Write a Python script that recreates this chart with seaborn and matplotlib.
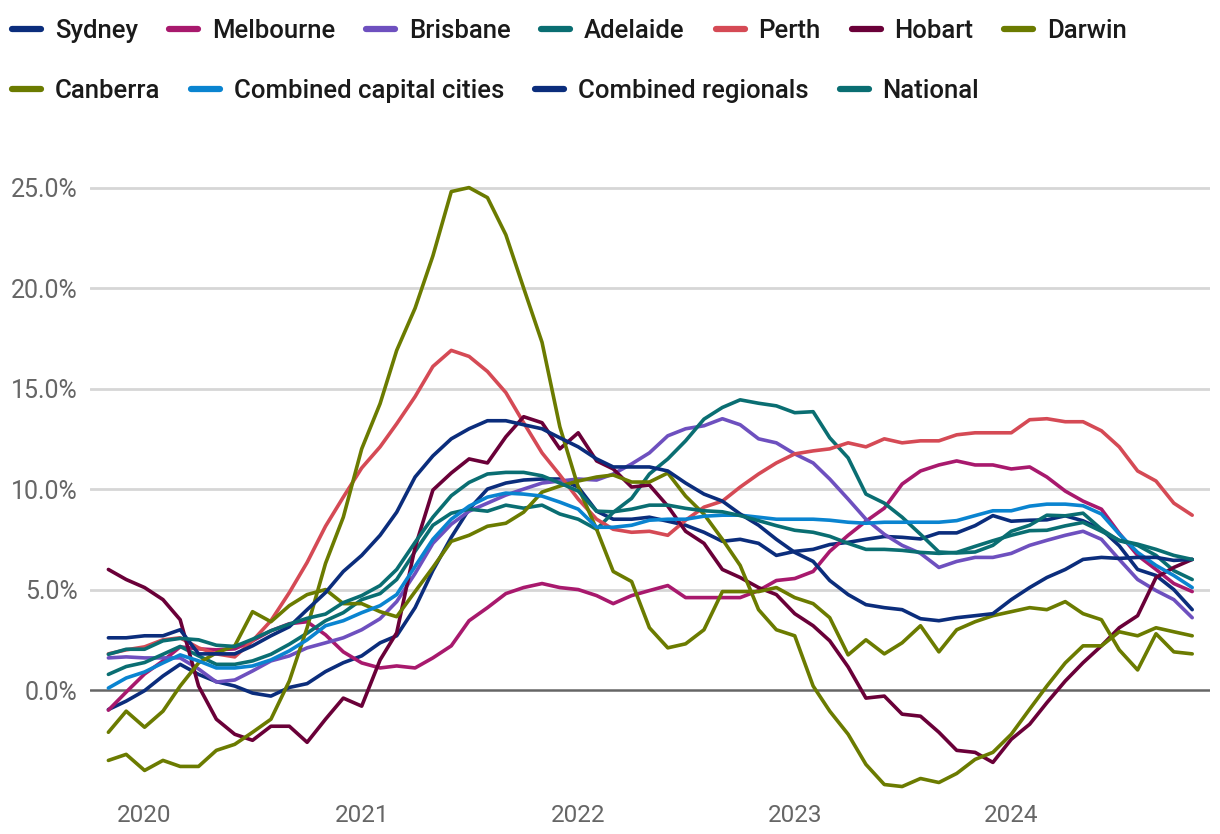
import pandas as pd
import matplotlib.pyplot as plt
import seaborn as sns
from matplotlib.lines import Line2D
from matplotlib.ticker import FuncFormatter

# monthly annual change, Nov 2019 - Nov 2024
months = pd.date_range('2019-11-01', '2024-11-01', freq='MS')

sydney = [-0.97, -0.55, -0.03, 0.7, 1.28, 0.78, 0.42, 0.2, -0.15, -0.3,
          0.13, 0.32, 0.92, 1.36, 1.7, 2.35, 2.7, 4.1, 5.95, 7.6,
          9.0, 10.0, 10.3, 10.45, 10.5, 10.5, 10.1, 8.9, 8.5, 8.5,
          8.6, 8.4, 8.2, 7.85, 7.4, 7.5, 7.3, 6.7, 6.9, 7.0,
          7.24, 7.35, 7.5, 7.64, 7.6, 7.52, 7.82, 7.82, 8.18, 8.68,
          8.4, 8.45, 8.47, 8.67, 8.42, 8.0, 7.18, 6.0, 5.7, 5.0,
          4.0]
melbourne = [-1.0, -0.1, 0.8, 1.45, 2.15, 2.05, 2.0, 2.05, 2.45, 2.95,
             3.3, 3.4, 2.75, 1.9, 1.35, 1.1, 1.2, 1.1, 1.6, 2.2,
             3.45, 4.1, 4.8, 5.1, 5.3, 5.1, 5.0, 4.7, 4.3, 4.7,
             4.95, 5.2, 4.6, 4.6, 4.6, 4.6, 4.95, 5.45, 5.55, 5.9,
             6.9, 7.7, 8.4, 9.05, 10.25, 10.9, 11.2, 11.4, 11.2, 11.2,
             11.0, 11.1, 10.6, 9.9, 9.4, 9.0, 7.8, 6.7, 6.0, 5.3,
             4.9]
brisbane = [1.6, 1.65, 1.6, 1.6, 1.6, 1.05, 0.4, 0.5, 0.95, 1.45,
            1.7, 2.1, 2.35, 2.6, 3.0, 3.55, 4.4, 5.8, 7.3, 8.25,
            8.9, 9.3, 9.7, 10.0, 10.3, 10.4, 10.5, 10.45, 10.75, 11.25,
            11.8, 12.65, 13.0, 13.15, 13.5, 13.2, 12.5, 12.3, 11.75, 11.3,
            10.5, 9.5, 8.5, 7.75, 7.2, 6.8, 6.1, 6.4, 6.6, 6.6,
            6.8, 7.2, 7.45, 7.7, 7.9, 7.5, 6.5, 5.5, 4.95, 4.5,
            3.6]
adelaide = [0.78, 1.17, 1.37, 1.78, 2.17, 1.7, 1.28, 1.28, 1.45, 1.78,
            2.28, 2.83, 3.45, 3.85, 4.5, 4.8, 5.5, 6.9, 8.2, 8.8,
            9.0, 8.9, 9.2, 9.05, 9.2, 8.76, 8.5, 8.0, 8.84, 9.54,
            10.75, 11.5, 12.4, 13.48, 14.06, 14.44, 14.27, 14.14, 13.8, 13.85,
            12.55, 11.55, 9.75, 9.3, 8.6, 7.75, 6.87, 6.82, 6.87, 7.2,
            7.9, 8.2, 8.7, 8.67, 8.8, 8.0, 7.43, 7.2, 6.7, 5.94,
            5.5]
perth = [1.8, 2.0, 2.15, 2.5, 2.6, 2.1, 1.8, 1.65, 2.45, 3.45,
         4.85, 6.35, 8.15, 9.6, 11.05, 12.1, 13.25, 14.6, 16.1, 16.9,
         16.6, 15.85, 14.8, 13.3, 11.8, 10.7, 9.5, 8.5, 8.0, 7.85,
         7.9, 7.7, 8.45, 9.1, 9.4, 10.1, 10.75, 11.3, 11.75, 11.9,
         12.0, 12.3, 12.1, 12.5, 12.3, 12.4, 12.4, 12.7, 12.8, 12.8,
         12.8, 13.45, 13.5, 13.35, 13.35, 12.9, 12.1, 10.9, 10.4, 9.3,
         8.7]
hobart = [6.0, 5.5, 5.1, 4.5, 3.5, 0.2, -1.45, -2.2, -2.5, -1.8,
          -1.8, -2.6, -1.45, -0.4, -0.8, 1.5, 2.85, 7.1, 9.95, 10.8,
          11.5, 11.3, 12.6, 13.6, 13.3, 12.0, 12.8, 11.4, 11.0, 10.1,
          10.2, 9.15, 7.9, 7.3, 6.0, 5.6, 5.1, 4.75, 3.8, 3.2,
          2.45, 1.15, -0.4, -0.3, -1.2, -1.3, -2.1, -3.0, -3.1, -3.6,
          -2.45, -1.7, -0.63, 0.45, 1.36, 2.2, 3.1, 3.7, 5.6, 6.1,
          6.5]
darwin = [-3.5, -3.2, -4.0, -3.5, -3.8, -3.8, -3.0, -2.7, -2.1, -1.45,
          0.45, 3.1, 6.3, 8.6, 12.0, 14.25, 16.9, 19.0, 21.6, 24.8,
          25.0, 24.5, 22.65, 20.0, 17.3, 13.1, 10.1, 8.0, 5.9, 5.4,
          3.1, 2.1, 2.3, 3.0, 4.9, 4.9, 4.9, 5.1, 4.6, 4.3,
          3.6, 1.75, 2.5, 1.8, 2.35, 3.2, 1.9, 3.0, 3.4, 3.7,
          3.9, 4.1, 4.0, 4.4, 3.8, 3.5, 2.0, 1.0, 2.8, 1.9,
          1.8]
canberra = [-2.1, -1.05, -1.85, -1.05, 0.2, 1.35, 1.85, 2.2, 3.9, 3.4,
            4.2, 4.75, 5.0, 4.3, 4.3, 3.9, 3.65, 4.9, 6.1, 7.4,
            7.7, 8.15, 8.3, 8.85, 9.85, 10.15, 10.4, 10.6, 10.7, 10.35,
            10.35, 10.8, 9.65, 8.75, 7.5, 6.2, 4.0, 3.0, 2.7, 0.2,
            -1.05, -2.2, -3.7, -4.7, -4.8, -4.4, -4.6, -4.15, -3.45, -3.1,
            -2.2, -0.95, 0.2, 1.35, 2.2, 2.2, 2.9, 2.7, 3.1, 2.9,
            2.7]
capitals = [0.1, 0.6, 0.9, 1.35, 1.75, 1.45, 1.1, 1.1, 1.2, 1.5,
            1.95, 2.5, 3.2, 3.45, 3.85, 4.2, 4.75, 6.15, 7.5, 8.5,
            9.15, 9.6, 9.8, 9.75, 9.65, 9.35, 9.0, 8.1, 8.1, 8.2,
            8.45, 8.5, 8.5, 8.65, 8.7, 8.7, 8.6, 8.5, 8.5, 8.5,
            8.45, 8.35, 8.3, 8.35, 8.35, 8.35, 8.35, 8.43, 8.68, 8.92,
            8.92, 9.15, 9.25, 9.25, 9.17, 8.76, 7.76, 6.85, 6.2, 5.7,
            5.1]
regionals = [2.6, 2.6, 2.7, 2.7, 3.0, 1.8, 1.8, 1.8, 2.2, 2.7,
             3.15, 4.0, 4.85, 5.9, 6.7, 7.7, 8.85, 10.6, 11.65, 12.5,
             13.0, 13.4, 13.4, 13.2, 13.0, 12.55, 12.1, 11.5, 11.1, 11.1,
             11.1, 10.9, 10.3, 9.75, 9.4, 8.76, 8.2, 7.5, 6.85, 6.4,
             5.45, 4.75, 4.25, 4.1, 4.0, 3.55, 3.45, 3.6, 3.7, 3.8,
             4.5, 5.1, 5.6, 6.0, 6.5, 6.6, 6.55, 6.6, 6.6, 6.45,
             6.5]
national = [1.78, 2.03, 2.03, 2.45, 2.57, 2.5, 2.23, 2.17, 2.53, 2.95,
            3.28, 3.57, 3.78, 4.35, 4.7, 5.2, 6.0, 7.35, 8.6, 9.67,
            10.33, 10.75, 10.83, 10.83, 10.66, 10.3, 9.9, 8.9, 8.87, 9.0,
            9.2, 9.2, 9.04, 8.92, 8.87, 8.68, 8.43, 8.18, 7.95, 7.85,
            7.65, 7.3, 7.0, 7.0, 6.95, 6.85, 6.8, 6.85, 7.15, 7.43,
            7.7, 7.93, 7.95, 8.17, 8.34, 7.9, 7.45, 7.26, 7.0, 6.7,
            6.5]

cities = ['Sydney', 'Melbourne', 'Brisbane', 'Adelaide', 'Perth', 'Hobart', 'Darwin',
          'Canberra', 'Combined capital cities', 'Combined regionals', 'National']
values = [sydney, melbourne, brisbane, adelaide, perth, hobart, darwin,
          canberra, capitals, regionals, national]

colours = {
    'Sydney': '#0b2d7c',
    'Melbourne': '#a8196d',
    'Brisbane': '#6e50bf',
    'Adelaide': '#0a6e72',
    'Perth': '#d54a55',
    'Hobart': '#6a0038',
    'Darwin': '#6b7b00',
    'Canberra': '#6b7b00',
    'Combined capital cities': '#0a84d0',
    'Combined regionals': '#0b2d7c',
    'National': '#0a6e72',
}

df = pd.DataFrame({c: v for c, v in zip(cities, values)}, index=months)
df = df.reset_index(names='month').melt(id_vars='month', var_name='city', value_name='change')

sns.set_style('white')
plt.rcParams['font.family'] = ['Roboto', 'DejaVu Sans']

fig = plt.figure(figsize=(12.2, 8.34), dpi=100)
ax = fig.add_axes([90 / 1220, 34 / 834, 1120 / 1220, 650 / 834])

# grid
for g in [5, 10, 15, 20, 25]:
    ax.axhline(g, color='#d6d6d6', lw=2, zorder=0)
ax.axhline(0, color='#666666', lw=1.8, zorder=1)

sns.lineplot(data=df, x='month', y='change', hue='city', hue_order=cities,
             palette=colours, linewidth=2.6, legend=False, ax=ax, zorder=2)

ax.set_xlim(pd.Timestamp('2019-10-01'), pd.Timestamp('2024-12-01'))
ax.set_ylim(-5.47, 26.87)
ax.set_yticks([0, 5, 10, 15, 20, 25])
ax.yaxis.set_major_formatter(FuncFormatter(lambda v, p: f'{v:.1f}%'))
years = ['2020', '2021', '2022', '2023', '2024']
ax.set_xticks(pd.to_datetime([y + '-01-01' for y in years]))
ax.set_xticklabels(years)
ax.set_xlabel('')
ax.set_ylabel('')
ax.tick_params(axis='y', length=0, pad=9, labelsize=18, labelcolor='#666666')
ax.tick_params(axis='x', length=0, pad=3, labelsize=17.5, labelcolor='#666666')
for s in ax.spines.values():
    s.set_visible(False)

# legend in two rows
def make_handles(names):
    return [Line2D([0], [0], color=colours[n], lw=4.5, solid_capstyle='round') for n in names]

legend_font = dict(family=['Roboto', 'DejaVu Sans'], weight='medium', size=18.5)
row1 = cities[:7]
row2 = cities[7:]
for names, yc in [(row1, 1 - 31 / 834), (row2, 1 - 91 / 834)]:
    leg = fig.legend(make_handles(names), names, loc='center left',
                     bbox_to_anchor=(12 / 1220, yc), ncol=len(names), frameon=False,
                     borderpad=0, borderaxespad=0, handlelength=1.13, handletextpad=0.54,
                     columnspacing=1.2, prop=legend_font)
    for t in leg.get_texts():
        t.set_color('#1a1a1a')

fig.savefig('out.png', dpi=100)
